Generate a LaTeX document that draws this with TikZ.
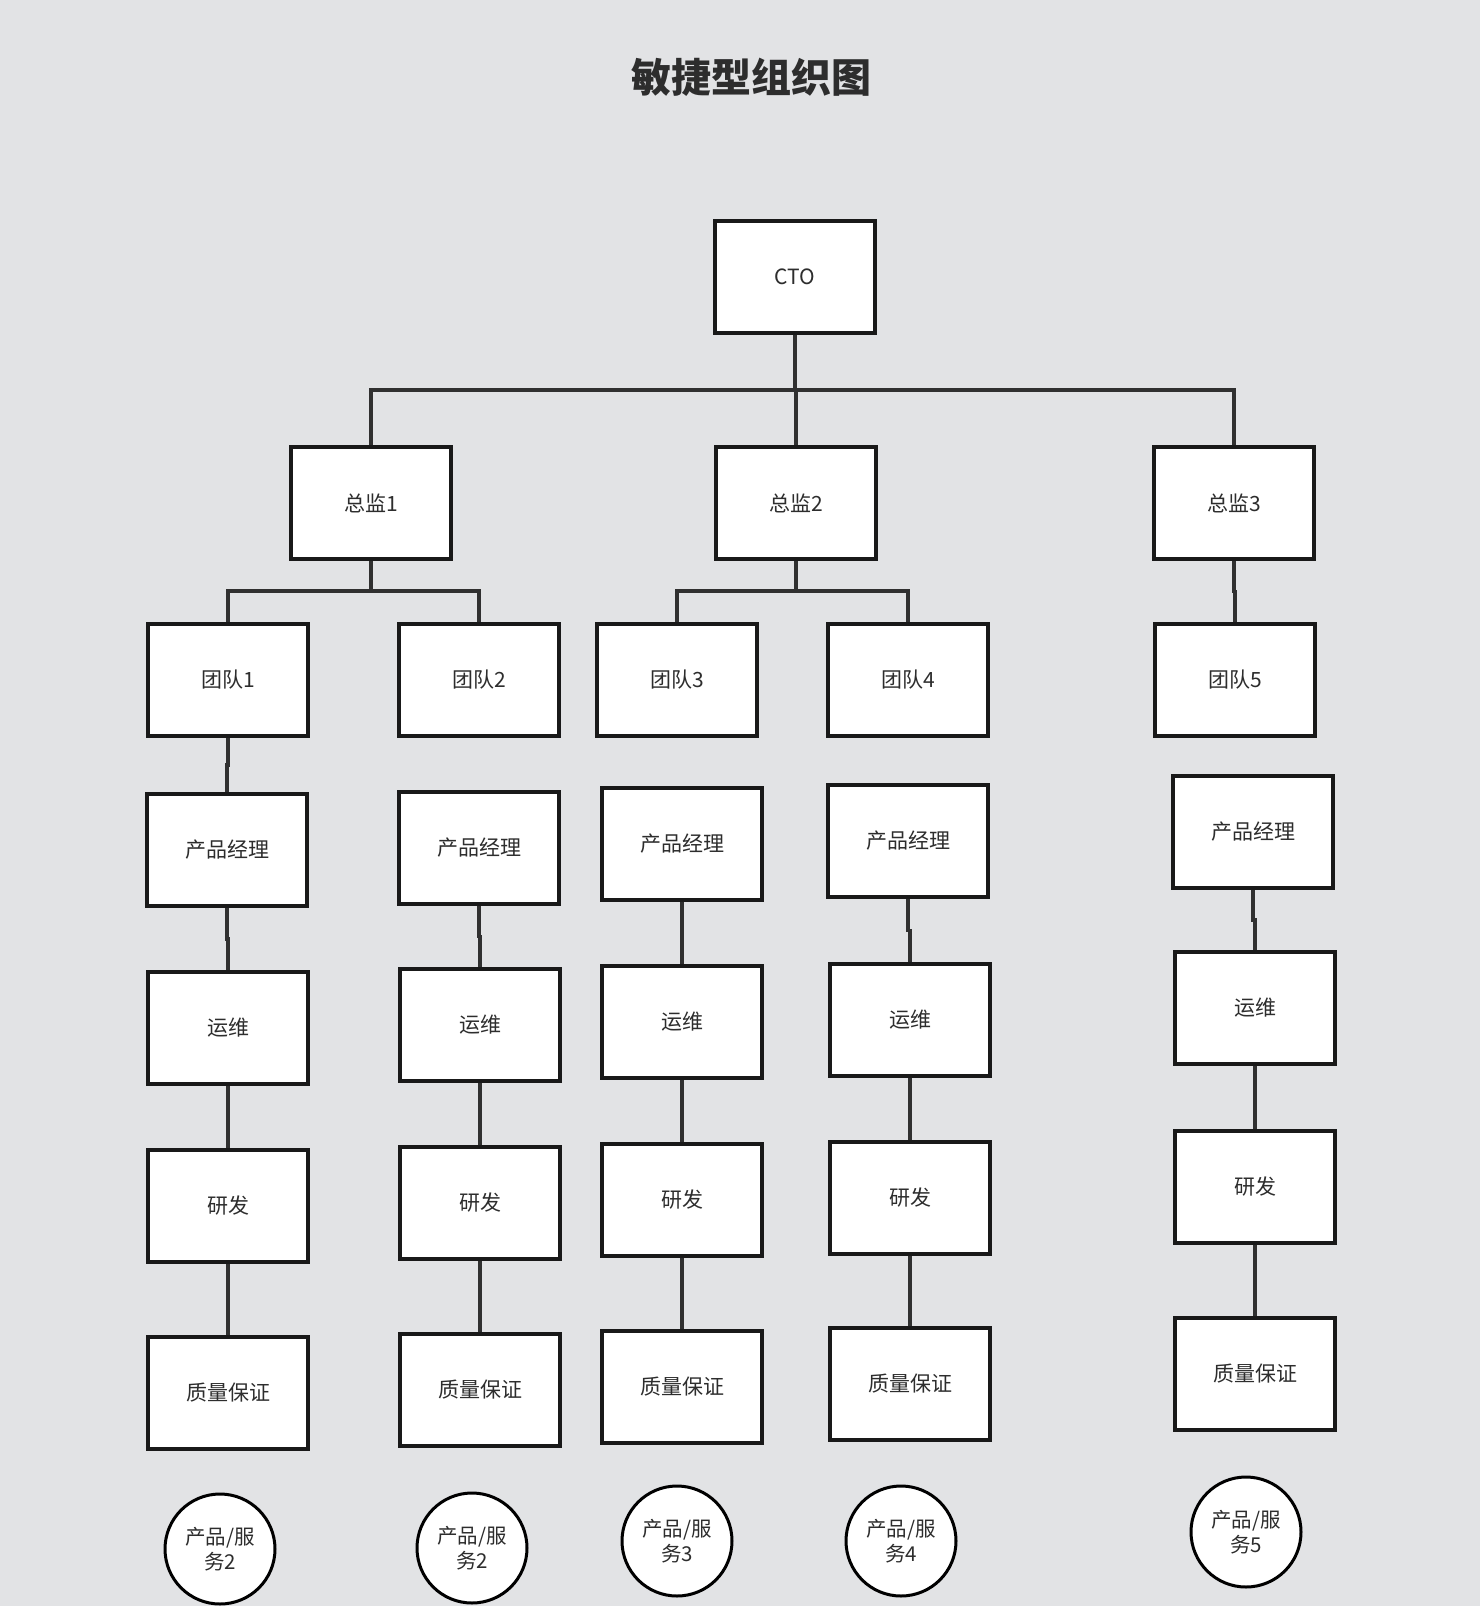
\documentclass[tikz,border=0pt]{standalone}
\usepackage{fontspec}
\newfontfamily\cjk{Noto Sans CJK SC}
\usetikzlibrary{calc}
\definecolor{bggray}{RGB}{226,227,229}
\definecolor{linegray}{RGB}{48,48,48}
\definecolor{textgray}{RGB}{45,45,45}
\tikzset{
  unit/.style={draw=black!90, line width=3.1pt, fill=white, minimum width=160pt, minimum height=112pt, inner sep=0pt, font=\cjk\fontsize{21}{25}\selectfont, text=textgray},
  product/.style={circle, draw=black, line width=3pt, fill=white, minimum size=110pt, inner sep=0pt, align=center, font=\cjk\fontsize{20.5}{24.5}\selectfont, text=textgray},
  link/.style={draw=linegray, line width=3.2pt},
  elbow/.style={to path={|- ($(\tikztostart)!.5!(\tikztotarget)$) -| (\tikztotarget)}}
}

\begin{document}
\begin{tikzpicture}[x=1pt,y=-1pt]
    \fill [bggray](0,0) rectangle (1480,1606);
    \useasboundingbox (0,0) rectangle (1480,1606);
    \node [font=\cjk\bfseries\fontsize{40}{48}\selectfont, text=textgray] (title) at (751,77) {敏捷型组织图};
    % top of the tree
    \node [unit] (cto) at (795,277) {CTO};
    \node [unit] (dir1) at (371,503) {总监1};
    \node [unit] (dir2) at (796,503) {总监2};
    \node [unit] (dir3) at (1234,503) {总监3};
    % teams
    \node [unit] (team1) at (228,680) {团队1};
    \node [unit] (team2) at (479,680) {团队2};
    \node [unit] (team3) at (677,680) {团队3};
    \node [unit] (team4) at (908,680) {团队4};
    \node [unit] (team5) at (1235,680) {团队5};
    % column 1
    \node [unit] (pm1) at (227,850) {产品经理};
    \node [unit] (ops1) at (228,1028) {运维};
    \node [unit] (dev1) at (228,1206) {研发};
    \node [unit] (qa1) at (228,1393) {质量保证};
    \node [product] (prod1) at (220,1549) {产品/服\\务2};
    % column 2
    \node [unit] (pm2) at (479,848) {产品经理};
    \node [unit] (ops2) at (480,1025) {运维};
    \node [unit] (dev2) at (480,1203) {研发};
    \node [unit] (qa2) at (480,1390) {质量保证};
    \node [product] (prod2) at (472,1548) {产品/服\\务2};
    % column 3
    \node [unit] (pm3) at (682,844) {产品经理};
    \node [unit] (ops3) at (682,1022) {运维};
    \node [unit] (dev3) at (682,1200) {研发};
    \node [unit] (qa3) at (682,1387) {质量保证};
    \node [product] (prod3) at (677,1541) {产品/服\\务3};
    % column 4
    \node [unit] (pm4) at (908,841) {产品经理};
    \node [unit] (ops4) at (910,1020) {运维};
    \node [unit] (dev4) at (910,1198) {研发};
    \node [unit] (qa4) at (910,1384) {质量保证};
    \node [product] (prod4) at (901,1541) {产品/服\\务4};
    % column 5
    \node [unit] (pm5) at (1253,832) {产品经理};
    \node [unit] (ops5) at (1255,1008) {运维};
    \node [unit] (dev5) at (1255,1187) {研发};
    \node [unit] (qa5) at (1255,1374) {质量保证};
    \node [product] (prod5) at (1246,1532) {产品/服\\务5};
    % connectors
    \coordinate (hub) at (795,390);
    \coordinate (hub1) at (371,591);
    \coordinate (hub2) at (796,591);
    \draw [link] (cto.south) -- (hub);
    \draw [link] (dir1.north) |- (hub) -| (dir3.north);
    \draw [link] (hub) -| (dir2.north);
    \draw [link] (dir1.south) -- (hub1);
    \draw [link] (team1.north) |- (hub1) -| (team2.north);
    \draw [link] (dir2.south) -- (hub2);
    \draw [link] (team3.north) |- (hub2) -| (team4.north);
    \draw [link] (dir3.south) to[elbow] (team5.north);
    \draw [link] (team1.south) to[elbow] (pm1.north);
    \draw [link] (pm1.south) to[elbow] (ops1.north);
    \draw [link] (ops1.south) to[elbow] (dev1.north);
    \draw [link] (dev1.south) to[elbow] (qa1.north);
    \draw [link] (pm2.south) to[elbow] (ops2.north);
    \draw [link] (ops2.south) to[elbow] (dev2.north);
    \draw [link] (dev2.south) to[elbow] (qa2.north);
    \draw [link] (pm3.south) to[elbow] (ops3.north);
    \draw [link] (ops3.south) to[elbow] (dev3.north);
    \draw [link] (dev3.south) to[elbow] (qa3.north);
    \draw [link] (pm4.south) to[elbow] (ops4.north);
    \draw [link] (ops4.south) to[elbow] (dev4.north);
    \draw [link] (dev4.south) to[elbow] (qa4.north);
    \draw [link] (pm5.south) to[elbow] (ops5.north);
    \draw [link] (ops5.south) to[elbow] (dev5.north);
    \draw [link] (dev5.south) to[elbow] (qa5.north);
\end{tikzpicture}
\end{document}
